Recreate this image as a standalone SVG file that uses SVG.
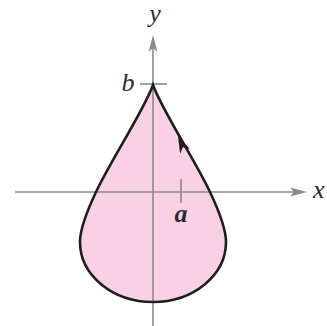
<svg xmlns="http://www.w3.org/2000/svg" width="327" height="326" viewBox="0 0 327 326">
  <style>
    .axis { stroke: #8a8a8a; stroke-width: 1.6; fill: none; }
    .axhead { fill: #8a8a8a; }
    .lbl { font-family: "Liberation Serif", "DejaVu Serif", serif; font-style: italic; font-size: 26px; fill: #2a2a38; }
  </style>
  <rect width="327" height="326" fill="#ffffff"/>
  <g id="region">
    <path d="M153,85 C163,112 195,160 210,192 C219,211 226,228 226,242 A73,60 0 0 1 80,242 C80,228 87,211 96,192 C111,160 143,112 153,85 Z" fill="#f9d0e4" stroke="none"/>
  </g>
  <g id="axes">
    <line class="axis" x1="15" y1="192" x2="297" y2="192"/>
    <path class="axhead" d="M307,192 L290,187.5 L294,192 L290,196.5 Z"/>
    <line class="axis" x1="153" y1="326" x2="153" y2="45"/>
    <path class="axhead" d="M153,35 L148.5,52 L153,48 L157.5,52 Z"/>
    <line class="axis" x1="140" y1="84" x2="167" y2="84"/>
    <line class="axis" x1="181" y1="179" x2="181" y2="203"/>
  </g>
  <g id="curve">
    <path d="M153,85 C163,112 195,160 210,192 C219,211 226,228 226,242 A73,60 0 0 1 80,242 C80,228 87,211 96,192 C111,160 143,112 153,85 Z" fill="none" stroke="#1e1e1e" stroke-width="2.6" stroke-linejoin="miter"/>
    <path d="M178,136 L190.1,149.2 L183,146.9 L180.1,153.8 Z" fill="#1e1e1e"/>
  </g>
  <g id="labels">
    <text class="lbl" x="155" y="22" text-anchor="middle">y</text>
    <text class="lbl" x="128" y="91" text-anchor="middle">b</text>
    <text class="lbl" x="181" y="222" text-anchor="middle" font-weight="bold">a</text>
    <text class="lbl" x="313" y="198">x</text>
  </g>
</svg>
